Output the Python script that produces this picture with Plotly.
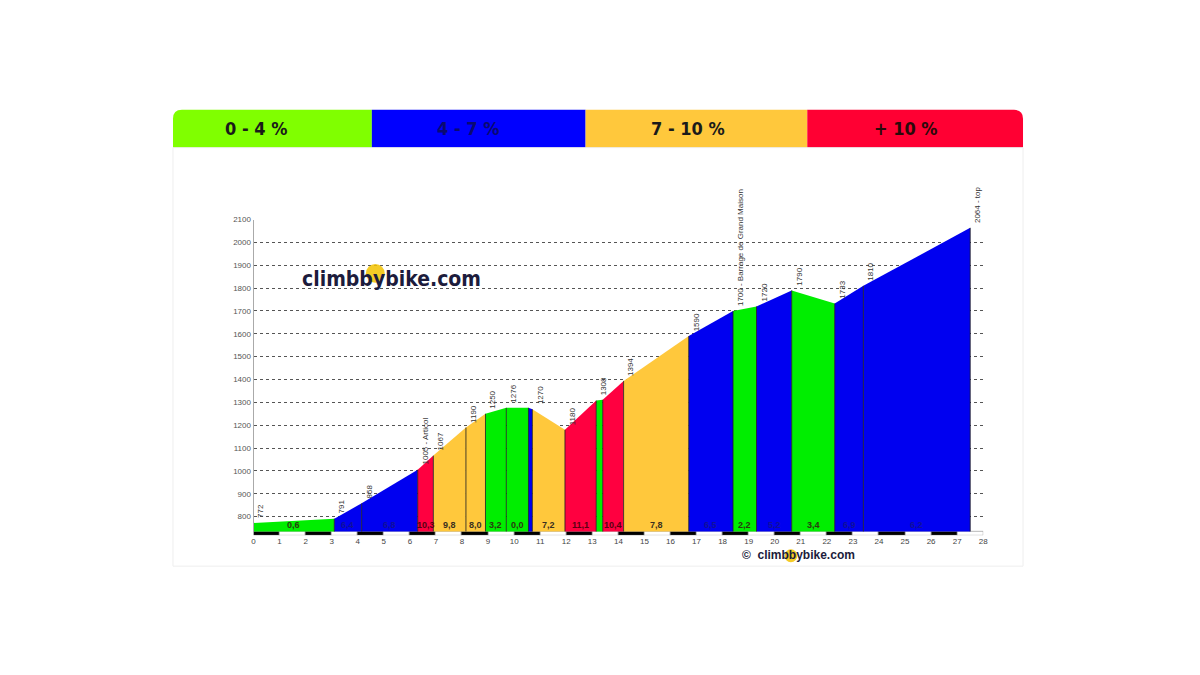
import plotly.graph_objects as go

# climb profile: distance (km) and elevation (m) at each break point
km = [0, 3.1, 4.15, 6.3, 6.9, 8.15, 8.9, 9.7, 10.55, 10.7, 11.95, 13.15, 13.4,
      14.2, 16.7, 18.4, 19.3, 20.65, 22.3, 23.4, 27.5]
elev = [772, 791, 858, 1005, 1067, 1190, 1250, 1276, 1276, 1270, 1180, 1308, 1311,
        1394, 1590, 1700, 1720, 1790, 1733, 1810, 2064]
point_labels = ["772", "791", "858", "1005 - Articol", "1067", "1190", "1250", "1276", "",
                "1270", "1180", "1308", "", "1394", "1590",
                "1700 - Barrage de Grand Maison", "1720", "1790", "1733", "1810", "2064 - top"]

# average gradient (%) of each segment between two break points
gradients = [0.6, 6.4, 6.8, 10.3, 9.8, 8.0, 3.2, 0.0, 4.0, 7.2, 11.1, 1.2, 10.4,
             7.8, 6.5, 2.2, 5.2, 3.4, 6.9, 6.2]
gradient_labels = ["0,6", "6,4", "6,8", "10,3", "9,8", "8,0", "3,2", "0,0", "", "7,2",
                   "11,1", "", "10,4", "7,8", "6,5", "2,2", "5,2", "3,4", "6,9", "6,2"]

legend_labels = ["0 - 4 %", "4 - 7 %", "7 - 10 %", "+ 10 %"]
legend_colors = ["#80ff00", "#0000ff", "#ffc83c", "#ff0033"]
segment_colors = ["#00ee00", "#0000f0", "#ffc83c", "#ff0040"]
label_colors = ["#2a3a10", "#10109a", "#3a3020", "#5a0010"]

km_ticks = list(range(0, 29))
elev_ticks = list(range(800, 2101, 100))

BASE = 735
STRIP_BOTTOM = 718
W, H = 1200, 675
Y_OFF = -1.5
NARROW = "DejaVu Sans Condensed, Liberation Sans Narrow, sans-serif"


def grade_class(g):
    if g < 4:
        return 0
    if g < 7:
        return 1
    if g < 10:
        return 2
    return 3


def px(x):
    return x / W


def py(y):
    return 1 - (y + Y_OFF) / H


fig = go.Figure()

# km strip under the profile, black / white
fig.add_trace(go.Bar(
    x=[k + 0.5 for k in km_ticks[:-1]], y=[BASE - STRIP_BOTTOM] * (len(km_ticks) - 1),
    base=STRIP_BOTTOM, width=1,
    marker=dict(color=["#000000" if i % 2 == 0 else "#ffffff" for i in range(len(km_ticks) - 1)],
                line=dict(color="#888888", width=0.6)),
    hoverinfo="skip", showlegend=False))

# coloured segments
for i in range(len(gradients)):
    c = segment_colors[grade_class(gradients[i])]
    fig.add_trace(go.Scatter(
        x=[km[i], km[i], km[i + 1], km[i + 1]],
        y=[BASE, elev[i], elev[i + 1], BASE],
        fill="toself", fillcolor=c, mode="lines", line=dict(width=0, color=c),
        hoverinfo="skip", showlegend=False))

# thin dark separators between segments
sx, sy = [], []
for i in range(1, len(km)):
    sx += [km[i], km[i], None]
    sy += [BASE, elev[i], None]
fig.add_trace(go.Scatter(x=sx, y=sy, mode="lines", line=dict(color="#1a1a1a", width=0.8),
                         hoverinfo="skip", showlegend=False))

annotations = []
# elevation labels, rotated
for k, e, t in zip(km, elev, point_labels):
    if t == "":
        continue
    annotations.append(dict(x=k, y=e, text=t, textangle=-90, showarrow=False,
                            xanchor="left", yanchor="bottom", xshift=1, yshift=3,
                            font=dict(family="Liberation Sans, sans-serif", size=8, color="#333333")))
# gradient labels at the bottom of each segment
for i, t in enumerate(gradient_labels):
    if t == "":
        continue
    annotations.append(dict(x=(km[i] + km[i + 1]) / 2, y=764, text="<b>" + t + "</b>",
                            showarrow=False,
                            font=dict(family="Liberation Sans, sans-serif", size=9,
                                      color=label_colors[grade_class(gradients[i])])))

# header with the colour key
header_x = [172, 372, 587, 810, 1027]
top, bot, r = 108, 146, 9
shapes = []
for i in range(4):
    x0, x1 = header_x[i], header_x[i + 1]
    if i == 0:
        path = (f"M {px(x0)},{py(bot)} L {px(x0)},{py(top + r)} Q {px(x0)},{py(top)} {px(x0 + r)},{py(top)} "
                f"L {px(x1)},{py(top)} L {px(x1)},{py(bot)} Z")
    elif i == 3:
        path = (f"M {px(x0)},{py(bot)} L {px(x0)},{py(top)} L {px(x1 - r)},{py(top)} "
                f"Q {px(x1)},{py(top)} {px(x1)},{py(top + r)} L {px(x1)},{py(bot)} Z")
    else:
        path = (f"M {px(x0)},{py(bot)} L {px(x0)},{py(top)} L {px(x1)},{py(top)} L {px(x1)},{py(bot)} Z")
    shapes.append(dict(type="path", path=path, xref="paper", yref="paper",
                       fillcolor=legend_colors[i], line=dict(width=0), layer="below"))
header_text_x = [255, 469, 690, 909]
header_text_c = ["#1a1a1a", "#0a0a70", "#1a1a1a", "#2a0a0a"]
for i in range(4):
    annotations.append(dict(x=px(header_text_x[i]), y=py(127), xref="paper", yref="paper",
                            xanchor="center", yanchor="middle",
                            text="<b>" + legend_labels[i] + "</b>", showarrow=False,
                            font=dict(family=NARROW, size=18, color=header_text_c[i])))

# faint panel border
shapes.append(dict(type="rect", xref="paper", yref="paper", x0=px(172), x1=px(1027),
                   y0=py(567), y1=py(146), line=dict(color="#eeeeee", width=1), layer="below"))

# watermark
shapes.append(dict(type="circle", xref="paper", yref="paper", x0=px(366), x1=px(385),
                   y0=py(282), y1=py(263), fillcolor="#f2c200", opacity=0.85, line=dict(width=0)))
shapes.append(dict(type="circle", xref="paper", yref="paper", x0=px(787), x1=px(800),
                   y0=py(563), y1=py(550), fillcolor="#f2c200", opacity=0.85, line=dict(width=0)))
annotations.append(dict(x=px(392), y=py(278), xref="paper", yref="paper",
                        xanchor="center", yanchor="middle",
                        text="<b>climbbybike.com</b>", showarrow=False,
                        font=dict(family=NARROW, size=21, color="#1c1c3c")))
annotations.append(dict(x=px(801), y=py(556), xref="paper", yref="paper",
                        xanchor="center", yanchor="middle",
                        text="<b>©  climbbybike.com</b>", showarrow=False,
                        font=dict(family="Liberation Sans, sans-serif", size=12, color="#1c1c3c")))

fig.update_layout(
    width=W, height=H,
    margin=dict(l=0, r=0, t=0, b=0),
    paper_bgcolor="white", plot_bgcolor="white",
    bargap=0,
    shapes=shapes,
    annotations=annotations,
    xaxis=dict(domain=[px(253), px(987)], range=[0, 28], tickvals=km_ticks,
               showgrid=False, zeroline=False, showline=False, ticks="",
               tickfont=dict(family="Liberation Sans, sans-serif", size=8, color="#444444")),
    yaxis=dict(domain=[py(536), py(218.4)], range=[STRIP_BOTTOM, 2100], tickvals=elev_ticks,
               showgrid=True, gridcolor="#555555", griddash="dot", gridwidth=1,
               zeroline=False, showline=True, linecolor="#aaaaaa", linewidth=1, ticks="",
               tickfont=dict(family="Liberation Sans, sans-serif", size=8, color="#555555")),
)

# page margin off so the figure sits at the top-left corner
fig.write_html("out.html", config={"displayModeBar": False},
               post_script="document.body.style.margin='0';")
